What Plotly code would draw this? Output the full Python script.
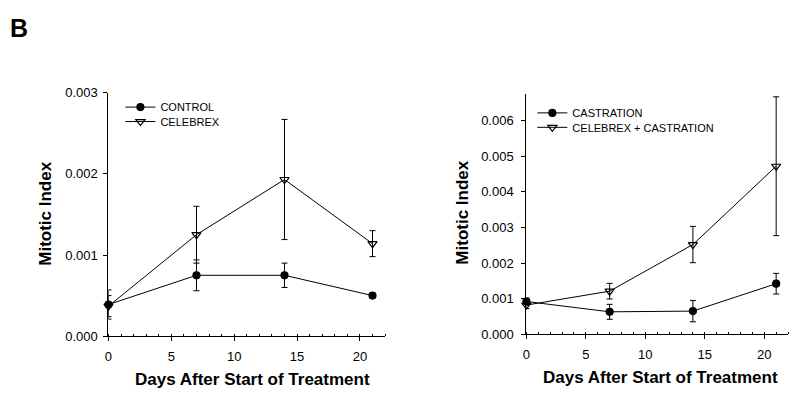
import plotly.graph_objects as go

days = [0, 7, 14, 21]

control = [0.00039, 0.00075, 0.00075, 0.00050]
control_err = [0.00018, 0.00019, 0.00015, 0.00003]
celebrex = [0.00037, 0.00125, 0.00193, 0.00114]
celebrex_err = [0.00013, 0.00035, 0.00074, 0.00016]

castration = [0.00092, 0.00063, 0.00065, 0.00142]
castration_err = [0.00010, 0.00021, 0.00030, 0.00029]
celeb_cast = [0.00082, 0.00121, 0.00252, 0.00472]
celeb_cast_err = [0.00010, 0.00022, 0.00051, 0.00195]

left_yticks = [0.000, 0.001, 0.002, 0.003]
right_yticks = [0.000, 0.001, 0.002, 0.003, 0.004, 0.005, 0.006]
xticks = [0, 5, 10, 15, 20]

FONT = "Liberation Sans, Arial, sans-serif"
W, H = 800, 400

def px(x):
    return x / W

def py(y):
    return (H - y) / H

fig = go.Figure()

def add(x, y, err, name, filled, xa, ya, legend):
    fig.add_trace(go.Scatter(
        x=x, y=y, name=name, mode="lines+markers",
        xaxis=xa, yaxis=ya, legend=legend,
        line=dict(color="black", width=1),
        marker=dict(
            symbol="circle" if filled else "triangle-down-open",
            size=7 if filled else 8,
            color="black",
            line=dict(color="black", width=1.2),
        ),
        error_y=dict(type="data", array=err, visible=True,
                     color="black", thickness=1, width=3),
        cliponaxis=False,
    ))

add(days, control, control_err, "CONTROL", True, "x", "y", "legend")
add(days, celebrex, celebrex_err, "CELEBREX", False, "x", "y", "legend2")
add(days, castration, castration_err, "CASTRATION", True, "x2", "y2", "legend3")
add(days, celeb_cast, celeb_cast_err, "CELEBREX + CASTRATION", False, "x2", "y2", "legend4")

axis_common = dict(
    showline=True, linecolor="black", linewidth=1.2,
    showgrid=False, zeroline=False,
    tickfont=dict(family=FONT, size=13, color="black"),
    ticks="outside", ticklen=4, tickcolor="black",
)

def leg(xs, ys):
    # xs, ys: screen position of the symbol start / row centre
    return dict(x=(xs - 7) / W, y=(H - (ys - 3)) / H, xanchor="left", yanchor="middle",
                bgcolor="rgba(0,0,0,0)", font=dict(family=FONT, size=11, color="black"),
                tracegroupgap=0, itemwidth=30)

fig.update_layout(
    width=W, height=H,
    margin=dict(l=0, r=0, t=0, b=0),
    paper_bgcolor="white", plot_bgcolor="white",
    showlegend=True,
    xaxis=dict(domain=[px(105), px(383)], range=[0, 22], anchor="y",
               tickvals=xticks, ticklabelstandoff=4,
               minor=dict(dtick=1, ticks="inside", ticklen=2, tickcolor="black"),
               **axis_common),
    yaxis=dict(domain=[py(342), py(89)], range=[0, 0.003], anchor="x",
               tickvals=left_yticks, tickformat=".3f", ticklabelstandoff=3,
               **axis_common),
    xaxis2=dict(domain=[px(525), px(788)], range=[0, 22], anchor="y2",
                tickvals=xticks, ticklabelstandoff=4,
                minor=dict(dtick=1, ticks="inside", ticklen=2, tickcolor="black"),
                **axis_common),
    yaxis2=dict(domain=[py(340), py(90)], range=[0, 0.00676], anchor="x2",
                tickvals=right_yticks, tickformat=".3f", ticklabelstandoff=5,
                **axis_common),
    legend=leg(124, 107),
    legend2=leg(124, 122),
    legend3=leg(538, 113),
    legend4=leg(538, 128),
    annotations=[
        dict(text="<b>B</b>", x=px(4), y=py(22), xref="paper", yref="paper",
             xanchor="left", yanchor="middle", showarrow=False,
             font=dict(family=FONT, size=25, color="black")),
        dict(text="<b>Days After Start of Treatment</b>", x=px(250), y=py(387),
             xref="paper", yref="paper", xanchor="center", yanchor="middle",
             showarrow=False, font=dict(family=FONT, size=17, color="black")),
        dict(text="<b>Days After Start of Treatment</b>", x=px(660), y=py(385),
             xref="paper", yref="paper", xanchor="center", yanchor="middle",
             showarrow=False, font=dict(family=FONT, size=17, color="black")),
        dict(text="<b>Mitotic Index</b>", x=px(42), y=py(215), textangle=-90,
             xref="paper", yref="paper", xanchor="center", yanchor="middle",
             showarrow=False, font=dict(family=FONT, size=17, color="black")),
        dict(text="<b>Mitotic Index</b>", x=px(461), y=py(214), textangle=-90,
             xref="paper", yref="paper", xanchor="center", yanchor="middle",
             showarrow=False, font=dict(family=FONT, size=17, color="black")),
    ],
)

fig.write_html("out.html", config={"displayModeBar": False},
               post_script="document.body.style.margin='0px';")
